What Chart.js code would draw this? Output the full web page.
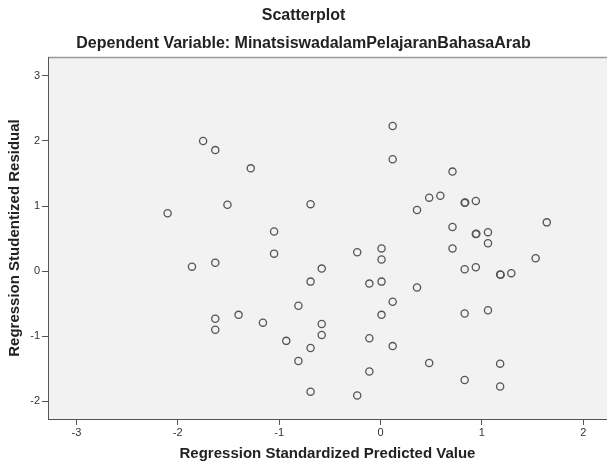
<!DOCTYPE html>
<html lang="en">
<head>
    <meta charset="UTF-8">
    <title>Scatterplot</title>
    <script src="https://cdn.jsdelivr.net/npm/chart.js"></script>
    <style>
        html, body {
            margin: 0;
            padding: 0;
            background: #ffffff;
        }

        .chart-box {
            width: 607px;
            height: 464px;
        }
    </style>
</head>
<body>
    <div class="chart-box">
        <canvas id="residualChart"></canvas>
    </div>

    <script>
        // values (predicted value, studentized residual)
        const predicted = [
            -1.75, -1.63, -1.28, -1.51, -0.69, -2.10, -1.05, -1.05, -0.23, -1.86,
            -1.63, -0.58, -0.69, -0.11, 0.01, 0.01, 0.01, 0.12, 0.12, 0.71,
            0.48, 0.59, 0.83, 0.835, 0.94, 0.36, 1.64, 0.71, 0.94, 0.945,
            1.06, 1.06, 0.71, 1.53, 0.83, 0.94, 1.18, 1.185, 1.29, 0.36,
            -0.81, -1.63, -1.40, -1.16, -1.63, -0.58, -0.58, -0.93, -0.69, -0.81,
            -0.69, -0.23, -0.11, -0.11, 0.12, 0.01, 0.83, 1.06, 0.12, 0.48,
            1.18, 0.83, 1.18
        ];
        const residual = [
            2.00, 1.86, 1.58, 1.02, 1.03, 0.89, 0.61, 0.27, 0.29, 0.07,
            0.13, 0.04, -0.16, -0.19, 0.35, 0.18, -0.16, 2.23, 1.72, 1.53,
            1.13, 1.16, 1.05, 1.055, 1.08, 0.94, 0.75, 0.68, 0.57, 0.575,
            0.60, 0.43, 0.35, 0.20, 0.03, 0.06, -0.05, -0.055, -0.03, -0.25,
            -0.53, -0.73, -0.67, -0.79, -0.90, -0.81, -0.98, -1.07, -1.18, -1.38,
            -1.85, -1.91, -1.03, -1.54, -0.47, -0.67, -0.65, -0.60, -1.15, -1.41,
            -1.42, -1.67, -1.77
        ];
        const xTicks = [-3, -2, -1, 0, 1, 2];
        const yTicks = [-2, -1, 0, 1, 2, 3];

        const points = predicted.map((x, i) => ({ x: x, y: residual[i] }));

        // light grey plot area plus the thin line on top
        const plotFrame = {
            id: 'plotFrame',
            beforeDraw(chart) {
                const { ctx, chartArea } = chart;
                ctx.save();
                ctx.fillStyle = '#f2f2f2';
                ctx.fillRect(chartArea.left, chartArea.top, chartArea.right - chartArea.left, chartArea.bottom - chartArea.top);
                ctx.strokeStyle = '#9a9a9a';
                ctx.lineWidth = 1.5;
                ctx.beginPath();
                ctx.moveTo(chartArea.left, chartArea.top + 0.5);
                ctx.lineTo(chartArea.right, chartArea.top + 0.5);
                ctx.stroke();
                ctx.restore();
            }
        };

        const fontFamily = '"Liberation Sans", Arial, sans-serif';
        const tickFont = { family: fontFamily, size: 11 };
        const axisTitleFont = { family: fontFamily, size: 15, weight: 'bold' };

        new Chart(document.getElementById('residualChart'), {
            type: 'scatter',
            data: {
                datasets: [{
                    data: points,
                    pointStyle: 'circle',
                    pointRadius: 3.6,
                    pointHoverRadius: 3.6,
                    pointBorderWidth: 1.3,
                    pointBackgroundColor: 'rgba(0, 0, 0, 0)',
                    pointBorderColor: '#555555'
                }]
            },
            options: {
                responsive: true,
                maintainAspectRatio: false,
                animation: false,
                layout: { padding: 0, autoPadding: false },
                plugins: {
                    legend: { display: false },
                    tooltip: { enabled: false },
                    title: {
                        display: true,
                        text: 'Scatterplot',
                        color: '#222222',
                        font: { family: fontFamily, size: 16, weight: 'bold' },
                        padding: { top: 6.4, bottom: 6 }
                    },
                    subtitle: {
                        display: true,
                        text: 'Dependent Variable: MinatsiswadalamPelajaranBahasaArab',
                        color: '#222222',
                        font: { family: fontFamily, size: 16, weight: 'bold' },
                        padding: { top: 2.8, bottom: 3.4 }
                    }
                },
                scales: {
                    x: {
                        type: 'linear',
                        min: -3.28,
                        max: 2.234,
                        afterBuildTicks: scale => { scale.ticks = xTicks.map(v => ({ value: v })); },
                        afterFit: scale => { scale.height = 45; },
                        border: { color: '#555555', width: 1 },
                        grid: { drawOnChartArea: false, drawTicks: true, tickLength: 6, tickColor: '#555555' },
                        ticks: { color: '#333333', font: tickFont, padding: 1, maxRotation: 0 },
                        title: {
                            display: true,
                            text: 'Regression Standardized Predicted Value',
                            color: '#222222',
                            font: axisTitleFont,
                            padding: { top: 0, bottom: 1 }
                        }
                    },
                    y: {
                        type: 'linear',
                        min: -2.27,
                        max: 3.29,
                        afterBuildTicks: scale => { scale.ticks = yTicks.map(v => ({ value: v })); },
                        afterFit: scale => { scale.width = 48; },
                        border: { color: '#555555', width: 1 },
                        grid: { drawOnChartArea: false, drawTicks: true, tickLength: 6, tickColor: '#555555' },
                        ticks: { color: '#333333', font: tickFont, padding: 2 },
                        title: {
                            display: true,
                            text: 'Regression Studentized Residual',
                            color: '#222222',
                            font: axisTitleFont,
                            padding: { top: 6, bottom: 0 }
                        }
                    }
                }
            },
            plugins: [plotFrame]
        });
    </script>
</body>
</html>
